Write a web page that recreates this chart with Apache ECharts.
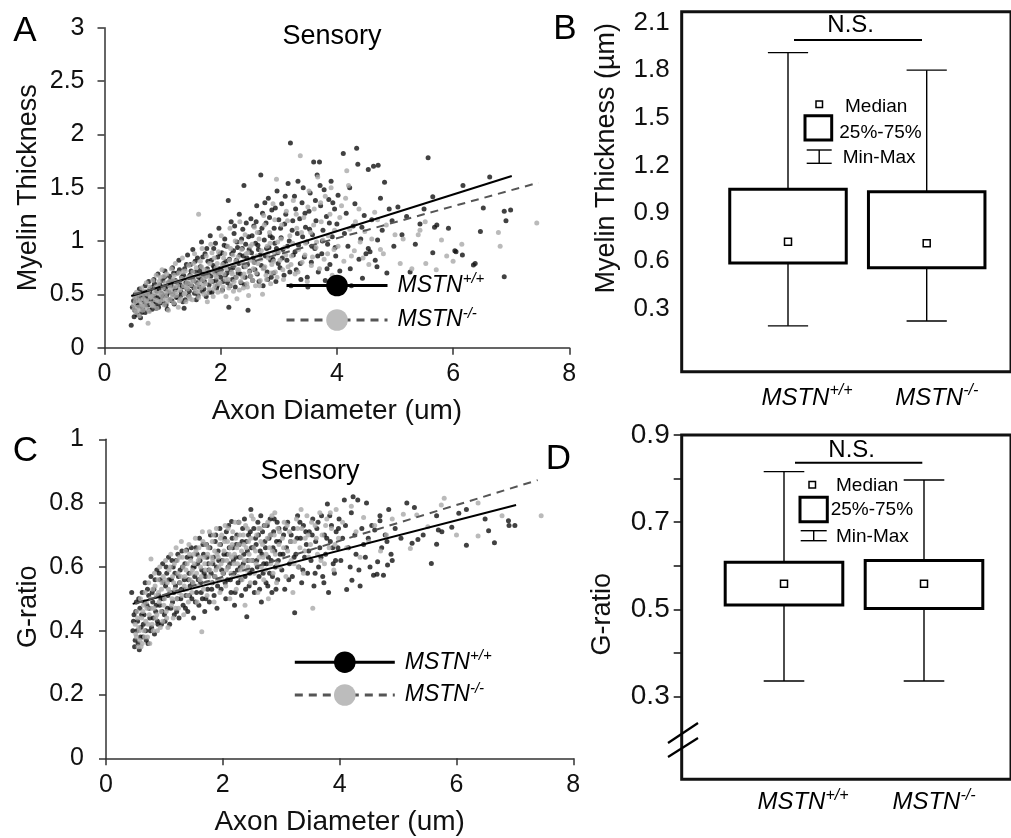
<!DOCTYPE html>
<html><head><meta charset="utf-8">
<script src="https://cdn.jsdelivr.net/npm/echarts@6/dist/echarts.min.js"></script>
<style>html,body{margin:0;padding:0;background:#fff}#c{width:1011px;height:838px}</style>
</head><body><div id="c"></div>
<script>
const FONT = 'Liberation Sans, Arial, Helvetica, sans-serif';

// ---------- data ----------
const categories = ['MSTN+/+', 'MSTN-/-'];
// [min, Q1, median, Q3, max]
const myelinBox = [[0.19, 0.585, 0.72, 1.05, 1.91], [0.22, 0.555, 0.71, 1.035, 1.80]];
const gratioBox = [[0.336, 0.51, 0.559, 0.608, 0.816], [0.336, 0.502, 0.559, 0.612, 0.797]];

const fitMyelinWT = [[0.46, 0.485], [7.01, 1.61]];
const fitMyelinKO = [[0.5, 0.50], [7.47, 1.547]];
const fitGratioWT = [[0.457, 0.484], [7.02, 0.794]];
const fitGratioKO = [[0.5, 0.485], [7.39, 0.872]];

const myelinWT = [
[0.46,0.21],[0.48,0.38],[0.5,0.44],[0.52,0.35],[0.53,0.50],[0.55,0.42],[0.56,0.31],[0.58,0.47],[0.6,0.55],[0.6,0.39],[0.62,0.28],[0.63,0.45],[0.65,0.52],[0.66,0.36],[0.68,0.43],[0.7,0.58],[0.7,0.33],[0.72,0.49],
[0.75,0.40],[0.76,0.62],[0.78,0.52],[0.8,0.45],[0.82,0.36],[0.83,0.57],[0.85,0.64],[0.87,0.48],[0.88,0.41],[0.9,0.53],[0.92,0.69],[0.93,0.38],[0.95,0.59],[0.97,0.46],[0.98,0.51],[1.0,0.63],
[1.02,0.42],[1.04,0.72],[1.05,0.55],[1.07,0.49],[1.08,0.36],[1.1,0.61],[1.12,0.67],[1.13,0.45],[1.15,0.58],[1.17,0.75],[1.18,0.50],[1.2,0.41],[1.22,0.63],[1.23,0.56],[1.25,0.70],[1.27,0.47],[1.28,0.82],[1.3,0.59],[1.32,0.52],[1.33,0.66],[1.35,0.43],[1.37,0.37],[1.38,0.74],[1.4,0.61],[1.42,0.55],[1.43,0.87],[1.45,0.49],[1.47,0.68],[1.48,0.78],[1.5,0.58],
[1.52,0.92],[1.53,0.63],[1.55,0.51],[1.57,0.71],[1.58,0.45],[1.6,0.84],[1.62,0.66],[1.63,0.57],[1.65,0.76],[1.67,0.99],[1.68,0.53],[1.7,0.69],[1.72,0.62],[1.73,0.88],[1.75,0.48],[1.77,0.74],[1.78,0.81],[1.8,0.59],[1.82,1.05],[1.83,0.67],[1.85,0.52],[1.87,0.77],[1.88,0.93],[1.9,0.71],[1.92,0.63],[1.93,0.56],[1.95,0.85],[1.97,1.12],[1.98,0.74],[2.0,0.66],
[2.02,0.89],[2.03,0.54],[2.05,0.79],[2.07,1.02],[2.08,0.68],[2.1,0.95],[2.12,0.61],[2.13,1.38],[2.14,0.38],[2.15,0.83],[2.17,0.73],[2.18,1.18],[2.2,0.64],[2.22,0.91],[2.23,1.07],[2.25,0.57],[2.27,0.82],[2.28,0.99],[2.3,0.70],[2.32,1.25],[2.33,0.87],[2.35,0.61],[2.37,0.93],[2.38,1.11],[2.4,1.52],[2.4,0.76],[2.42,0.66],[2.43,0.97],[2.45,0.84],[2.47,0.35],[2.48,1.04],[2.5,0.72],
[2.52,1.21],[2.53,0.89],[2.55,0.63],[2.57,1.14],[2.58,0.80],[2.6,0.98],[2.62,1.33],[2.63,0.69],[2.65,0.92],[2.67,1.08],[2.69,1.62],[2.7,0.77],[2.72,1.26],[2.73,0.58],[2.75,1.01],[2.77,0.86],[2.78,1.17],[2.8,0.71],[2.82,1.40],[2.83,0.94],[2.85,1.05],[2.87,0.66],[2.88,1.29],[2.9,0.83],[2.92,1.12],[2.93,0.98],[2.95,0.62],[2.97,1.47],[2.98,0.89],[3.0,1.20],
[3.02,0.75],[3.04,1.03],[3.05,1.35],[3.07,0.92],[3.09,0.68],[3.1,1.16],[3.12,1.25],[3.14,0.82],[3.16,1.54],[3.18,1.00],[3.2,1.92],[3.21,0.58],[3.23,1.10],[3.25,0.87],[3.27,1.42],[3.29,1.30],[3.3,0.73],[3.32,1.07],[3.34,0.96],[3.36,1.21],[3.38,0.64],[3.4,1.36],[3.42,1.50],[3.44,0.85],[3.46,1.13],[3.48,0.99],[3.5,0.57],
[3.52,1.28],[3.54,1.45],[3.56,0.80],[3.58,1.06],[3.6,1.74],[3.62,0.93],[3.64,1.19],[3.66,1.62],[3.68,0.71],[3.7,1.74],[3.72,1.33],[3.74,0.88],[3.76,1.10],[3.78,1.48],[3.8,0.63],[3.82,1.23],[3.84,0.97],[3.86,1.39],[3.88,0.78],[3.9,1.56],[3.92,1.04],[3.94,0.54],[3.96,1.30],[3.98,0.86],[4.0,1.16],
[4.02,1.43],[4.05,0.72],[4.08,0.52],[4.11,1.82],[4.13,1.07],[4.16,1.26],[4.19,0.95],[4.22,1.50],[4.23,0.74],[4.25,0.58],[4.28,1.14],[4.31,1.35],[4.34,1.87],[4.36,1.72],[4.38,0.83],[4.41,1.02],[4.43,1.13],[4.44,0.65],[4.47,1.24],[4.5,0.88],
[4.54,1.67],[4.54,0.93],[4.57,0.90],[4.6,1.20],[4.63,1.70],[4.66,0.82],[4.69,0.76],[4.7,1.01],[4.71,1.71],[4.75,1.40],[4.78,1.10],[4.82,1.55],[4.86,0.70],[4.9,1.30],[4.95,1.19],[4.98,0.95],
[5.05,1.32],[5.12,1.06],[5.2,1.23],[5.26,0.71],[5.35,0.97],[5.43,1.16],[5.5,1.30],[5.57,1.78],[5.65,1.415],[5.65,0.89],[5.68,1.13],[5.72,1.15],[5.92,1.12],[6.03,0.91],[6.05,0.90],[6.16,0.87],[6.17,1.52],[6.35,0.775],[6.38,0.79],[6.47,1.09],[6.52,1.31],[6.63,1.60],[6.88,1.28],[6.88,0.665],[6.91,1.19],[6.99,1.29],
[0.51,0.29],[0.54,0.46],[0.57,0.40],[0.61,0.49],[0.64,0.33],[0.67,0.48],[0.69,0.40],[0.71,0.52],[0.74,0.45],[0.77,0.35],[0.79,0.55],[0.81,0.49],[0.84,0.43],[0.86,0.60],[0.89,0.37],[0.91,0.47],[0.94,0.55],[0.96,0.42],[0.99,0.57],[1.01,0.49],[1.03,0.66],[1.06,0.40],[1.09,0.58],[1.11,0.52],[1.14,0.63],[1.16,0.44],[1.19,0.70],[1.21,0.54],[1.24,0.47],[1.26,0.61],[1.29,0.73],[1.31,0.49],[1.34,0.57],[1.36,0.68],[1.39,0.45],[1.41,0.78],[1.44,0.60],[1.46,0.53],[1.49,0.72],[1.51,0.66],[1.54,0.56],[1.56,0.81],[1.59,0.61],[1.61,0.49],[1.64,0.72],[1.66,0.64],[1.69,0.85],[1.71,0.55],[1.74,0.67],[1.76,0.93],[1.79,0.70],[1.81,0.52],[1.84,0.82],[1.86,0.62],[1.89,0.75],[1.91,0.98],[1.94,0.58],[1.96,0.69],[1.99,0.88],[2.01,0.73],[2.04,0.62],[2.06,0.96],[2.09,0.81],[2.11,0.70],[2.16,0.58],[2.19,0.88],[2.21,0.75],[2.24,1.14],[2.26,0.66],[2.29,0.94],[2.31,0.79],[2.34,0.69],[2.36,1.02],[2.39,0.86],[2.41,0.59],[2.44,1.17],[2.46,0.78],[2.49,0.92],[2.51,0.67],[2.54,1.05],[2.56,0.84],[2.59,0.73],[2.61,1.18],[2.64,0.96],[2.66,0.62],[2.68,0.87],[2.71,1.12],[2.74,0.75],[2.76,1.36],[2.79,0.93],[2.81,0.64],[2.84,1.22],[2.86,0.82],[2.89,1.03],[2.91,0.70],[2.94,1.31],[2.96,0.93],[2.99,0.79],[3.03,1.12],[3.06,0.84],[3.11,1.42],[3.15,0.95],[3.19,0.71],[3.24,1.19],[3.28,0.90],[3.33,1.56],[3.37,0.79],[3.41,1.04],[3.45,1.26],[3.49,0.66],[3.53,1.11],[3.57,0.95],[3.63,1.38],[3.67,0.86],[3.71,1.52],[3.75,1.00],[3.83,0.74],[3.87,1.17],[3.93,1.36],[3.97,0.94]
];

const myelinKO = [
[0.5,0.40],[0.52,0.47],[0.54,0.33],[0.55,0.52],[0.57,0.38],[0.58,0.44],[0.6,0.30],[0.61,0.50],[0.63,0.41],[0.64,0.56],[0.66,0.35],[0.67,0.46],[0.69,0.53],[0.7,0.39],[0.72,0.61],[0.73,0.44],[0.75,0.23],[0.75,0.50],[0.77,0.34],[0.78,0.57],[0.8,0.42],[0.81,0.48],[0.83,0.63],[0.84,0.39],[0.86,0.54],[0.87,0.45],[0.89,0.68],[0.9,0.37],[0.92,0.51],[0.93,0.58],[0.95,0.43],[0.96,0.66],[0.98,0.49],[0.99,0.73],
[1.01,0.56],[1.03,0.40],[1.04,0.61],[1.06,0.47],[1.07,0.69],[1.09,0.53],[1.1,0.35],[1.12,0.58],[1.13,0.45],[1.15,0.74],[1.16,0.51],[1.18,0.64],[1.19,0.42],[1.21,0.57],[1.22,0.79],[1.24,0.49],[1.25,0.62],[1.27,0.38],[1.28,0.70],[1.3,0.54],[1.31,0.46],[1.33,0.65],[1.34,0.84],[1.36,0.58],[1.37,0.50],[1.39,0.72],[1.4,0.43],[1.42,0.61],[1.43,0.55],[1.45,0.77],[1.46,0.48],[1.48,0.67],[1.49,0.59],
[1.51,0.45],[1.52,0.71],[1.54,0.63],[1.55,0.88],[1.57,0.53],[1.58,0.75],[1.6,0.59],[1.62,1.25],[1.62,0.47],[1.63,0.68],[1.65,0.81],[1.66,0.56],[1.68,0.93],[1.69,0.64],[1.71,0.50],[1.72,0.73],[1.74,0.60],[1.75,0.86],[1.77,0.43],[1.78,0.67],[1.8,0.55],[1.81,0.79],[1.83,0.97],[1.84,0.62],[1.86,0.71],[1.87,0.48],[1.89,0.84],[1.9,0.58],[1.92,0.75],[1.93,0.66],[1.95,0.52],[1.96,0.90],[1.98,0.70],[1.99,0.61],
[2.01,1.05],[2.03,0.78],[2.04,0.57],[2.06,0.69],[2.07,0.88],[2.09,0.48],[2.1,0.74],[2.12,0.95],[2.13,0.64],[2.15,0.82],[2.16,1.12],[2.18,0.59],[2.19,0.71],[2.21,0.87],[2.22,0.53],[2.24,0.77],[2.25,1.00],[2.27,0.66],[2.28,0.46],[2.3,0.85],[2.31,0.73],[2.33,1.18],[2.34,0.62],[2.36,0.92],[2.37,0.80],[2.39,0.56],[2.4,0.69],[2.42,1.06],[2.43,0.76],[2.45,0.60],[2.47,0.89],[2.48,0.49],[2.5,0.82],
[2.52,0.67],[2.54,0.97],[2.56,0.74],[2.58,1.13],[2.6,0.58],[2.62,0.86],[2.64,0.79],[2.66,1.02],[2.68,0.63],[2.7,0.91],[2.72,0.50],[2.74,1.24],[2.76,0.76],[2.78,0.68],[2.8,0.95],[2.82,0.84],[2.84,1.08],[2.86,0.60],[2.88,0.78],[2.9,1.35],[2.92,0.89],[2.94,0.71],[2.96,1.58],[2.98,0.99],
[3.02,0.82],[3.05,1.15],[3.08,0.64],[3.1,0.94],[3.13,1.28],[3.16,0.76],[3.19,1.05],[3.22,0.86],[3.25,1.38],[3.28,0.69],[3.31,1.12],[3.34,0.92],[3.37,1.80],[3.4,0.80],[3.43,1.22],[3.46,0.98],[3.49,0.62],[3.52,1.47],[3.55,1.08],[3.58,0.85],[3.61,1.30],[3.64,0.94],[3.67,1.60],[3.7,0.74],[3.73,1.18],[3.76,1.01],[3.8,1.42],[3.84,0.88],[3.88,1.25],[3.92,0.68],[3.96,1.10],
[4.02,0.95],[4.08,1.33],[4.15,1.40],[4.17,1.66],[4.2,1.52],[4.25,0.86],[4.32,1.18],[4.4,0.99],[4.48,1.09],[4.55,0.78],[4.65,1.27],[4.75,0.92],[4.85,1.15],[5.0,1.06],[5.09,0.79],[5.14,1.02],[5.29,0.74],[5.4,1.06],[5.43,1.10],[5.52,1.18],[5.53,0.79],[5.71,0.73],[5.8,1.01],[5.89,0.86],[6.0,0.81],[6.15,0.97],[6.78,1.08],[6.81,0.95],[7.44,1.17],
[0.51,0.36],[0.53,0.43],[0.56,0.48],[0.59,0.35],[0.62,0.45],[0.65,0.39],[0.68,0.50],[0.71,0.43],[0.74,0.36],[0.76,0.54],[0.79,0.47],[0.82,0.40],[0.85,0.50],[0.88,0.57],[0.91,0.44],[0.94,0.62],[0.97,0.52],[1.0,0.45],[1.02,0.67],[1.05,0.51],[1.08,0.43],[1.11,0.62],[1.14,0.55],[1.17,0.48],[1.2,0.68],[1.23,0.52],[1.26,0.58],[1.29,0.44],[1.32,0.63],[1.35,0.71],[1.38,0.51],[1.41,0.57],[1.44,0.66],[1.47,0.46],[1.5,0.62],[1.53,0.79],[1.56,0.56],[1.59,0.68],[1.61,0.52],[1.64,0.61],[1.67,0.76],[1.7,0.58],[1.73,0.66],[1.76,0.51],[1.79,0.72],[1.82,0.63],[1.85,0.89],[1.88,0.55],[1.91,0.68],[1.94,0.79],[1.97,0.60],[2.0,0.71],[2.02,0.53],[2.05,0.84],[2.08,0.64],[2.11,0.77],[2.14,0.56],[2.17,0.93],[2.2,0.69],[2.23,0.62],[2.26,0.81],[2.29,0.73],[2.32,0.54],[2.35,0.99],[2.38,0.66],[2.41,0.78],[2.44,0.88],[2.46,0.57],[2.49,0.71],[2.51,0.95],[2.55,0.63],[2.57,0.80],[2.61,0.70],[2.63,1.08],[2.67,0.58],[2.69,0.83],[2.73,0.74],[2.75,1.15],[2.79,0.64],[2.81,0.88],[2.85,0.98],[2.87,0.70],[2.91,0.81],[2.93,1.20],[2.97,0.66],[3.0,0.90],[3.04,1.02],[3.07,0.73],[3.12,0.87],[3.15,1.19],[3.21,0.78],[3.24,0.98],[3.3,1.25],[3.33,0.71],[3.39,1.08],[3.45,0.87],[3.5,1.32],[3.56,0.77],[3.6,1.15],[3.65,0.99],[3.72,1.36],[3.78,0.83],[3.85,1.05],[3.9,1.50],[3.95,0.92],[4.05,1.22],[4.12,0.81],[4.22,1.11],[4.3,0.91],[4.38,1.30],[4.45,0.84],[4.6,1.02],[4.7,1.20],[4.8,0.88]
];

const gratioWT = [
[0.44,0.52],[0.46,0.40],[0.48,0.45],[0.5,0.37],[0.52,0.49],[0.54,0.43],[0.55,0.36],[0.57,0.34],[0.58,0.47],[0.6,0.41],[0.62,0.52],[0.63,0.38],[0.65,0.45],[0.67,0.55],[0.68,0.40],[0.7,0.48],[0.72,0.36],[0.73,0.51],[0.75,0.44],
[0.77,0.57],[0.78,0.41],[0.8,0.49],[0.82,0.53],[0.83,0.39],[0.85,0.46],[0.87,0.59],[0.88,0.43],[0.9,0.51],[0.92,0.48],[0.93,0.56],[0.95,0.42],[0.97,0.61],[0.98,0.50],[1.0,0.45],
[1.02,0.54],[1.04,0.58],[1.05,0.47],[1.07,0.63],[1.09,0.42],[1.1,0.52],[1.12,0.56],[1.14,0.49],[1.15,0.60],[1.17,0.45],[1.19,0.54],[1.2,0.62],[1.22,0.50],[1.24,0.57],[1.25,0.44],[1.27,0.59],[1.29,0.53],[1.3,0.65],[1.32,0.48],[1.34,0.56],[1.35,0.61],[1.37,0.51],[1.38,0.653],[1.4,0.46],[1.42,0.58],[1.44,0.54],[1.45,0.63],[1.47,0.50],[1.49,0.60],
[1.5,0.44],[1.52,0.57],[1.54,0.66],[1.55,0.52],[1.57,0.61],[1.59,0.48],[1.6,0.69],[1.62,0.55],[1.64,0.59],[1.65,0.50],[1.67,0.64],[1.69,0.46],[1.7,0.57],[1.72,0.67],[1.74,0.53],[1.75,0.61],[1.77,0.49],[1.79,0.70],[1.8,0.58],[1.82,0.55],[1.84,0.63],[1.85,0.51],[1.87,0.68],[1.89,0.60],[1.9,0.47],[1.92,0.65],[1.94,0.56],[1.95,0.72],[1.97,0.53],[1.99,0.62],
[2.01,0.58],[2.03,0.69],[2.05,0.50],[2.07,0.64],[2.08,0.56],[2.1,0.73],[2.12,0.61],[2.14,0.52],[2.15,0.742],[2.17,0.66],[2.19,0.58],[2.2,0.48],[2.22,0.63],[2.24,0.70],[2.26,0.55],[2.28,0.67],[2.3,0.60],[2.32,0.51],[2.34,0.72],[2.36,0.64],[2.38,0.57],[2.4,0.68],[2.41,0.444],[2.43,0.62],[2.45,0.54],[2.47,0.71],[2.48,0.78],[2.5,0.59],
[2.52,0.66],[2.54,0.52],[2.56,0.69],[2.58,0.62],[2.6,0.74],[2.62,0.57],[2.64,0.65],[2.66,0.49],[2.68,0.71],[2.7,0.61],[2.72,0.68],[2.74,0.55],[2.76,0.73],[2.78,0.63],[2.8,0.58],[2.82,0.70],[2.84,0.52],[2.86,0.66],[2.88,0.75],[2.9,0.60],[2.92,0.68],[2.94,0.56],[2.96,0.72],[2.98,0.64],
[3.01,0.59],[3.04,0.70],[3.06,0.53],[3.09,0.66],[3.11,0.74],[3.14,0.61],[3.16,0.68],[3.19,0.57],[3.21,0.72],[3.23,0.456],[3.25,0.64],[3.28,0.76],[3.3,0.60],[3.33,0.69],[3.35,0.55],[3.38,0.73],[3.4,0.63],[3.43,0.67],[3.45,0.58],[3.48,0.71],
[3.51,0.62],[3.54,0.75],[3.56,0.54],[3.59,0.68],[3.61,0.72],[3.64,0.60],[3.66,0.66],[3.69,0.76],[3.71,0.57],[3.74,0.70],[3.76,0.64],[3.79,0.797],[3.81,0.52],[3.84,0.68],[3.86,0.73],[3.89,0.61],[3.91,0.58],[3.94,0.71],[3.97,0.66],[3.99,0.75],
[4.02,0.62],[4.05,0.69],[4.08,0.81],[4.1,0.73],[4.12,0.529],[4.15,0.66],[4.18,0.60],[4.2,0.77],[4.21,0.558],[4.23,0.82],[4.26,0.70],[4.28,0.64],[4.31,0.81],[4.33,0.59],[4.35,0.54],[4.38,0.72],[4.41,0.67],[4.44,0.63],[4.46,0.80],[4.49,0.69],
[4.52,0.60],[4.55,0.73],[4.58,0.574],[4.6,0.716],[4.64,0.577],[4.65,0.616],[4.69,0.76],[4.69,0.745],[4.72,0.66],[4.75,0.574],[4.78,0.70],[4.81,0.68],[4.82,0.606],[4.84,0.78],[4.88,0.64],[4.9,0.62],[4.95,0.72],
[5.05,0.69],[5.15,0.80],[5.24,0.674],[5.28,0.786],[5.34,0.686],[5.43,0.70],[5.57,0.611],[5.66,0.76],[5.66,0.671],[5.69,0.716],[5.75,0.71],[5.92,0.724],[6.04,0.768],[6.17,0.78],[6.17,0.668],[6.49,0.75],[6.55,0.713],[6.65,0.676],[6.89,0.745],[6.9,0.73],[7.0,0.73],
[0.47,0.43],[0.49,0.35],[0.51,0.46],[0.53,0.40],[0.56,0.50],[0.59,0.38],[0.61,0.45],[0.64,0.42],[0.66,0.49],[0.69,0.37],[0.71,0.53],[0.74,0.47],[0.76,0.40],[0.79,0.52],[0.81,0.44],[0.84,0.56],[0.86,0.48],[0.89,0.42],[0.91,0.58],[0.94,0.50],[0.96,0.46],[0.99,0.55],[1.01,0.43],[1.03,0.60],[1.06,0.51],[1.08,0.56],[1.11,0.47],[1.13,0.62],[1.16,0.52],[1.18,0.58],[1.21,0.46],[1.23,0.64],[1.26,0.55],[1.28,0.50],[1.31,0.60],[1.33,0.53],[1.36,0.47],[1.39,0.63],[1.41,0.56],[1.43,0.51],[1.46,0.66],[1.48,0.55],[1.51,0.60],[1.53,0.49],[1.56,0.64],[1.58,0.56],[1.61,0.62],[1.63,0.52],[1.66,0.67],[1.68,0.58],[1.71,0.50],[1.73,0.63],[1.76,0.59],[1.78,0.66],[1.81,0.53],[1.83,0.61],[1.86,0.57],[1.88,0.70],[1.91,0.54],[1.93,0.62],[1.96,0.67],[1.98,0.59],[2.02,0.64],[2.04,0.55],[2.06,0.71],[2.09,0.60],[2.11,0.66],[2.13,0.56],[2.16,0.69],[2.18,0.62],[2.21,0.52],[2.23,0.67],[2.25,0.59],[2.27,0.74],[2.29,0.63],[2.31,0.56],[2.33,0.68],[2.35,0.61],[2.37,0.75],[2.39,0.53],[2.42,0.65],[2.44,0.70],[2.46,0.58],[2.49,0.66],[2.51,0.62],[2.53,0.72],[2.55,0.55],[2.57,0.67],[2.59,0.60],[2.61,0.70],[2.63,0.53],[2.65,0.76],[2.67,0.64],[2.69,0.58],[2.71,0.73],[2.73,0.66],[2.75,0.61],[2.77,0.54],[2.79,0.69],[2.81,0.75],[2.83,0.62],[2.85,0.57],[2.87,0.71],[2.89,0.65],[2.91,0.53],[2.93,0.74],[2.95,0.62],[2.97,0.68],[3.03,0.64],[3.07,0.72],[3.13,0.56],[3.17,0.70],[3.22,0.63],[3.27,0.69],[3.32,0.74],[3.37,0.59],[3.42,0.71],[3.47,0.65],[3.53,0.70],[3.58,0.58],[3.63,0.74],[3.68,0.63],[3.73,0.55],[3.78,0.69],[3.83,0.76],[3.88,0.66],[3.93,0.62],[3.98,0.72]
];

const gratioKO = [
[0.5,0.42],[0.52,0.38],[0.53,0.46],[0.55,0.35],[0.56,0.41],[0.58,0.37],[0.59,0.50],[0.61,0.44],[0.62,0.36],[0.64,0.48],[0.65,0.40],[0.67,0.52],[0.68,0.43],[0.7,0.47],[0.71,0.38],[0.73,0.55],[0.74,0.45],[0.76,0.50],[0.77,0.625],[0.79,0.42],[0.8,0.53],[0.82,0.47],[0.83,0.58],[0.85,0.44],[0.86,0.51],[0.88,0.40],[0.89,0.56],[0.91,0.49],[0.92,0.60],[0.94,0.46],[0.95,0.53],[0.97,0.43],[0.98,0.57],
[1.0,0.50],[1.02,0.62],[1.03,0.46],[1.05,0.55],[1.06,0.41],[1.08,0.59],[1.09,0.52],[1.11,0.64],[1.12,0.48],[1.14,0.57],[1.15,0.44],[1.17,0.61],[1.18,0.53],[1.2,0.66],[1.21,0.50],[1.23,0.58],[1.24,0.47],[1.26,0.63],[1.27,0.55],[1.29,0.68],[1.3,0.51],[1.32,0.60],[1.33,0.45],[1.35,0.57],[1.36,0.65],[1.38,0.53],[1.39,0.61],[1.41,0.49],[1.42,0.67],[1.44,0.56],[1.45,0.62],[1.47,0.52],[1.48,0.59],
[1.5,0.64],[1.52,0.54],[1.53,0.69],[1.55,0.58],[1.56,0.49],[1.58,0.62],[1.59,0.66],[1.61,0.56],[1.62,0.60],[1.64,0.397],[1.65,0.71],[1.67,0.53],[1.68,0.63],[1.7,0.59],[1.71,0.67],[1.73,0.51],[1.74,0.64],[1.76,0.57],[1.77,0.71],[1.79,0.61],[1.8,0.55],[1.82,0.68],[1.83,0.62],[1.85,0.49],[1.86,0.65],[1.88,0.59],[1.89,0.72],[1.91,0.56],[1.92,0.63],[1.94,0.67],[1.95,0.52],[1.97,0.61],[1.98,0.70],
[2.0,0.58],[2.02,0.65],[2.04,0.73],[2.05,0.54],[2.07,0.62],[2.08,0.68],[2.1,0.60],[2.12,0.50],[2.13,0.66],[2.15,0.63],[2.17,0.71],[2.18,0.57],[2.2,0.64],[2.22,0.69],[2.23,0.53],[2.25,0.61],[2.27,0.67],[2.28,0.74],[2.3,0.59],[2.32,0.65],[2.33,0.56],[2.35,0.70],[2.37,0.62],[2.38,0.48],[2.4,0.66],[2.42,0.72],[2.43,0.60],[2.45,0.64],[2.47,0.55],[2.48,0.69],[2.5,0.62],
[2.52,0.75],[2.54,0.58],[2.56,0.65],[2.58,0.70],[2.6,0.52],[2.62,0.63],[2.64,0.72],[2.66,0.60],[2.68,0.67],[2.7,0.56],[2.72,0.73],[2.74,0.64],[2.76,0.69],[2.78,0.50],[2.8,0.66],[2.82,0.61],[2.84,0.76],[2.86,0.58],[2.88,0.70],[2.9,0.64],[2.92,0.55],[2.94,0.72],[2.96,0.67],[2.98,0.60],
[3.02,0.69],[3.05,0.74],[3.08,0.57],[3.11,0.65],[3.14,0.71],[3.17,0.62],[3.2,0.52],[3.23,0.68],[3.26,0.75],[3.29,0.60],[3.32,0.66],[3.35,0.72],[3.38,0.58],[3.41,0.69],[3.44,0.76],[3.47,0.63],[3.5,0.67],[3.54,0.47],[3.58,0.73],[3.62,0.64],[3.66,0.77],[3.7,0.70],[3.74,0.61],[3.78,0.75],[3.82,0.66],[3.86,0.72],[3.9,0.59],[3.94,0.78],[3.98,0.69],
[4.05,0.74],[4.12,0.66],[4.2,0.79],[4.28,0.71],[4.35,0.63],[4.41,0.755],[4.5,0.68],[4.6,0.73],[4.7,0.65],[4.8,0.70],[4.9,0.75],[5.09,0.765],[5.21,0.658],[5.32,0.763],[5.51,0.726],[5.74,0.794],[5.79,0.815],[6.0,0.70],[6.37,0.80],[6.37,0.697],[6.78,0.76],[7.45,0.76],
[0.51,0.39],[0.54,0.44],[0.57,0.40],[0.6,0.35],[0.63,0.46],[0.66,0.38],[0.69,0.49],[0.72,0.42],[0.75,0.36],[0.78,0.47],[0.81,0.40],[0.84,0.54],[0.87,0.45],[0.9,0.52],[0.93,0.41],[0.96,0.55],[0.99,0.48],[1.01,0.56],[1.04,0.44],[1.07,0.53],[1.1,0.60],[1.13,0.50],[1.16,0.55],[1.19,0.47],[1.22,0.62],[1.25,0.52],[1.28,0.57],[1.31,0.63],[1.34,0.54],[1.37,0.59],[1.4,0.51],[1.43,0.64],[1.46,0.58],[1.49,0.55],[1.51,0.61],[1.54,0.65],[1.57,0.54],[1.6,0.63],[1.63,0.57],[1.66,0.68],[1.69,0.61],[1.72,0.55],[1.75,0.66],[1.78,0.59],[1.81,0.63],[1.84,0.70],[1.87,0.57],[1.9,0.64],[1.93,0.60],[1.96,0.69],[1.99,0.56],[2.01,0.62],[2.03,0.68],[2.06,0.59],[2.09,0.72],[2.11,0.64],[2.14,0.58],[2.16,0.67],[2.19,0.61],[2.21,0.74],[2.24,0.66],[2.26,0.57],[2.29,0.70],[2.31,0.63],[2.34,0.60],[2.36,0.67],[2.39,0.73],[2.41,0.59],[2.44,0.68],[2.46,0.62],[2.49,0.76],[2.53,0.66],[2.57,0.61],[2.61,0.72],[2.65,0.68],[2.69,0.63],[2.73,0.59],[2.77,0.74],[2.81,0.70],[2.85,0.65],[2.89,0.77],[2.93,0.61],[2.97,0.71],[3.04,0.66],[3.1,0.73],[3.16,0.68],[3.22,0.61],[3.28,0.72],[3.34,0.78],[3.4,0.65],[3.46,0.70],[3.52,0.74],[3.6,0.69],[3.68,0.62],[3.76,0.73],[3.84,0.77],[3.92,0.67]
];

// ---------- helpers ----------
function genoRich(name, idx) {
  const sup = name.slice(4);
  const t = (idx === 1) ? 'i1' : (idx === 0 ? 'i0' : 'i');
  return '{' + t + '|MSTN}{s|' + sup + '}';
}
const richLegend = {
  i: {fontSize: 23, fontStyle: 'italic', fontFamily: FONT, color: '#000', lineHeight: 28, padding: [0, 0, 0, 5]},
  s: {fontSize: 15, fontStyle: 'italic', fontFamily: FONT, color: '#000', verticalAlign: 'top', lineHeight: 16}
};
const richAxis = {
  i0: {fontSize: 24, fontStyle: 'italic', fontFamily: FONT, color: '#000', lineHeight: 30, padding: [0, 0, 0, 38]},
  i1: {fontSize: 24, fontStyle: 'italic', fontFamily: FONT, color: '#000', lineHeight: 30, padding: [0, 0, 0, 20]},
  s: {fontSize: 16, fontStyle: 'italic', fontFamily: FONT, color: '#000', verticalAlign: 'top', lineHeight: 18}
};

function boxRender(params, api) {
  const cat = api.value(0);
  const band = api.size([1, 0])[0];
  const bw = band * 0.84, cw = band * 0.29;
  const pMin = api.coord([cat, api.value(1)]);
  const pQ1 = api.coord([cat, api.value(2)]);
  const pMed = api.coord([cat, api.value(3)]);
  const pQ3 = api.coord([cat, api.value(4)]);
  const pMax = api.coord([cat, api.value(5)]);
  const x = pMin[0];
  const thin = {stroke: '#000', lineWidth: 1.4, fill: null};
  return {type: 'group', children: [
    {type: 'line', shape: {x1: x, y1: pMax[1], x2: x, y2: pQ3[1]}, style: thin},
    {type: 'line', shape: {x1: x, y1: pQ1[1], x2: x, y2: pMin[1]}, style: thin},
    {type: 'line', shape: {x1: x - cw / 2, y1: pMax[1], x2: x + cw / 2, y2: pMax[1]}, style: thin},
    {type: 'line', shape: {x1: x - cw / 2, y1: pMin[1], x2: x + cw / 2, y2: pMin[1]}, style: thin},
    {type: 'rect', shape: {x: x - bw / 2, y: pQ3[1], width: bw, height: pQ1[1] - pQ3[1]}, style: {fill: '#fff', stroke: '#000', lineWidth: 3}},
    {type: 'rect', shape: {x: pMed[0] - 3.5, y: pMed[1] - 3.5, width: 7, height: 7}, style: {fill: '#fff', stroke: '#000', lineWidth: 1.5}}
  ]};
}

const axColor = '#333';
function scatterX(gi) {
  return {gridIndex: gi, type: 'value', min: 0, max: 8, interval: 2,
    axisLine: {lineStyle: {color: axColor, width: 1.5}},
    axisTick: {show: true, length: 7, lineStyle: {color: axColor, width: 1.5}},
    axisLabel: {fontSize: 25, fontFamily: FONT, color: '#111', margin: 14},
    splitLine: {show: false},
    name: 'Axon Diameter (um)', nameLocation: 'middle', nameGap: 50,
    nameTextStyle: {fontSize: 28, fontFamily: FONT, color: '#111'}};
}

const option = {
  animation: false,
  backgroundColor: '#fff',
  grid: [
    {left: 104.5, top: 27.7, width: 464.8, height: 320},
    {left: 106, top: 439.3, width: 467.3, height: 319},
    {left: 681.7, top: 11.7, right: -30, height: 360, show: true, borderWidth: 3, borderColor: '#111', backgroundColor: 'rgba(0,0,0,0)'},
    {left: 718.65, top: 22.5, width: 277.4, height: 333.5},
    {left: 681.7, top: 435, right: -30, height: 344.3, show: true, borderWidth: 3, borderColor: '#111', backgroundColor: 'rgba(0,0,0,0)'},
    {left: 714, top: 435, width: 280, height: 261.7}
  ],
  xAxis: [
    scatterX(0),
    scatterX(1),
    {gridIndex: 2, type: 'value', show: false},
    {gridIndex: 3, type: 'category', data: categories,
      axisLine: {show: false}, axisTick: {show: false},
      axisLabel: {margin: 27, formatter: genoRich, rich: richAxis}},
    {gridIndex: 4, type: 'value', show: false},
    {gridIndex: 5, type: 'category', data: categories,
      axisLine: {show: false}, axisTick: {show: false},
      axisLabel: {margin: 91, formatter: genoRich, rich: richAxis}}
  ],
  yAxis: [
    {gridIndex: 0, type: 'value', min: 0, max: 3, interval: 0.5,
      axisLine: {show: true, lineStyle: {color: axColor, width: 1.5}},
      axisTick: {show: true, length: 7, lineStyle: {color: axColor, width: 1.5}},
      axisLabel: {fontSize: 25, fontFamily: FONT, color: '#111', margin: 20},
      splitLine: {show: false},
      name: 'Myelin Thickness', nameLocation: 'middle', nameGap: 62,
      nameTextStyle: {fontSize: 27, fontFamily: FONT, color: '#111'}},
    {gridIndex: 1, type: 'value', min: 0, max: 1, interval: 0.2,
      axisLine: {show: true, lineStyle: {color: axColor, width: 1.5}},
      axisTick: {show: true, length: 7, lineStyle: {color: axColor, width: 1.5}},
      axisLabel: {fontSize: 25, fontFamily: FONT, color: '#111', margin: 22},
      splitLine: {show: false},
      name: 'G-ratio', nameLocation: 'middle', nameGap: 64,
      nameTextStyle: {fontSize: 27, fontFamily: FONT, color: '#111', padding: [0, 16, 0, 0]}},
    {gridIndex: 2, type: 'value', min: 0, max: 1,
      axisLine: {show: false}, axisTick: {show: false}, axisLabel: {show: false}, splitLine: {show: false},
      name: 'Myelin Thickness (µm)', nameLocation: 'middle', nameGap: 62,
      nameTextStyle: {fontSize: 27, fontFamily: FONT, color: '#111', padding: [0, 0, 0, 67]}},
    {gridIndex: 3, type: 'value', min: 0, max: 2.1, interval: 0.3, offset: 36.95,
      axisLine: {show: false}, axisTick: {show: false}, splitLine: {show: false},
      axisLabel: {fontSize: 26, fontFamily: FONT, color: '#111', margin: 12, showMinLabel: false,
        formatter: v => v === 0 ? '' : v.toFixed(1)}},
    {gridIndex: 4, type: 'value', min: 0, max: 1,
      axisLine: {show: false}, axisTick: {show: false}, axisLabel: {show: false}, splitLine: {show: false},
      name: 'G-ratio', nameLocation: 'middle', nameGap: 66,
      nameTextStyle: {fontSize: 27, fontFamily: FONT, color: '#111', padding: [0, 14, 0, 0]}},
    {gridIndex: 5, type: 'value', min: 0.3, max: 0.9, interval: 0.1, offset: 32.3,
      axisLine: {show: false},
      axisTick: {show: true, length: 8, lineStyle: {color: '#111', width: 1.5}},
      splitLine: {show: false},
      axisLabel: {fontSize: 28, fontFamily: FONT, color: '#111', margin: 12,
        formatter: v => (Math.round(v * 10) % 2 === 1) ? v.toFixed(1) : ''}}
  ],
  legend: [
    {left: 285, top: 271.5, padding: 0, orient: 'vertical', itemWidth: 101, itemHeight: 27, itemGap: 9,
      selectedMode: false, data: ['MSTN+/+', 'MSTN-/-'], formatter: n => genoRich(n),
      lineStyle: {width: 3}, textStyle: {rich: richLegend}},
    {left: 293.3, top: 648.2, padding: 0, orient: 'vertical', itemWidth: 100, itemHeight: 27, itemGap: 7.3,
      selectedMode: false, data: ['MSTN+/+', 'MSTN-/-'], formatter: n => genoRich(n),
      lineStyle: {width: 3}, textStyle: {rich: richLegend}}
  ],
  series: [
    {name: 'WT points A', type: 'scatter', xAxisIndex: 0, yAxisIndex: 0, data: myelinWT, symbolSize: 5, itemStyle: {color: '#111'}, silent: true, z: 2},
    {name: 'KO points A', type: 'scatter', xAxisIndex: 0, yAxisIndex: 0, data: myelinKO, symbolSize: 5, itemStyle: {color: '#a9a9a9'}, silent: true, z: 2},
    {name: 'MSTN+/+', type: 'line', xAxisIndex: 0, yAxisIndex: 0, data: fitMyelinWT, symbol: 'circle', showSymbol: false,
      lineStyle: {color: '#000', width: 2}, itemStyle: {color: '#000'}, silent: true, z: 3},
    {name: 'MSTN-/-', type: 'line', xAxisIndex: 0, yAxisIndex: 0, data: fitMyelinKO, symbol: 'circle', showSymbol: false,
      lineStyle: {color: '#555', width: 2, type: [8, 6]}, itemStyle: {color: '#bcbcbc'}, silent: true, z: 3},
    {name: 'WT points C', type: 'scatter', xAxisIndex: 1, yAxisIndex: 1, data: gratioWT, symbolSize: 5, itemStyle: {color: '#111'}, silent: true, z: 2},
    {name: 'KO points C', type: 'scatter', xAxisIndex: 1, yAxisIndex: 1, data: gratioKO, symbolSize: 5, itemStyle: {color: '#a9a9a9'}, silent: true, z: 2},
    {name: 'MSTN+/+ C', type: 'line', xAxisIndex: 1, yAxisIndex: 1, data: fitGratioWT, showSymbol: false,
      lineStyle: {color: '#000', width: 2}, itemStyle: {color: '#000'}, silent: true, z: 3},
    {name: 'MSTN-/- C', type: 'line', xAxisIndex: 1, yAxisIndex: 1, data: fitGratioKO, showSymbol: false,
      lineStyle: {color: '#555', width: 2, type: [8, 6]}, itemStyle: {color: '#bcbcbc'}, silent: true, z: 3},
    {name: 'Myelin box', type: 'custom', xAxisIndex: 3, yAxisIndex: 3, renderItem: boxRender,
      data: myelinBox.map((b, i) => [i].concat(b)), encode: {x: 0, y: [1, 2, 3, 4, 5]}, silent: true, z: 3},
    {name: 'G-ratio box', type: 'custom', xAxisIndex: 5, yAxisIndex: 5, renderItem: boxRender,
      data: gratioBox.map((b, i) => [i].concat(b)), encode: {x: 0, y: [1, 2, 3, 4, 5]}, silent: true, z: 3}
  ],
  graphic: [
    {type: 'text', x: 25, y: 31, style: {text: 'A', font: '35px ' + FONT, fill: '#000', align: 'center', verticalAlign: 'middle'}},
    {type: 'text', x: 565, y: 29, style: {text: 'B', font: '35px ' + FONT, fill: '#000', align: 'center', verticalAlign: 'middle'}},
    {type: 'text', x: 25.5, y: 451, style: {text: 'C', font: '35px ' + FONT, fill: '#000', align: 'center', verticalAlign: 'middle'}},
    {type: 'text', x: 558.5, y: 459, style: {text: 'D', font: '35px ' + FONT, fill: '#000', align: 'center', verticalAlign: 'middle'}},
    {type: 'text', x: 332, y: 37, style: {text: 'Sensory', font: '27px ' + FONT, fill: '#000', align: 'center', verticalAlign: 'middle'}},
    {type: 'text', x: 310, y: 472, style: {text: 'Sensory', font: '27px ' + FONT, fill: '#000', align: 'center', verticalAlign: 'middle'}},
    {type: 'text', x: 850.7, y: 25, style: {text: 'N.S.', font: '24px ' + FONT, fill: '#000', align: 'center', verticalAlign: 'middle'}},
    {type: 'line', shape: {x1: 794, y1: 40, x2: 922, y2: 40}, style: {stroke: '#000', lineWidth: 2}},
    {type: 'text', x: 851.7, y: 450, style: {text: 'N.S.', font: '24px ' + FONT, fill: '#000', align: 'center', verticalAlign: 'middle'}},
    {type: 'line', shape: {x1: 795, y1: 462.7, x2: 922.3, y2: 462.7}, style: {stroke: '#000', lineWidth: 2}},
    {type: 'rect', shape: {x: 816, y: 101, width: 6.5, height: 6.5}, style: {fill: '#fff', stroke: '#000', lineWidth: 1.5}},
    {type: 'text', x: 845, y: 107, style: {text: 'Median', font: '19px ' + FONT, fill: '#000', align: 'left', verticalAlign: 'middle'}},
    {type: 'rect', shape: {x: 805, y: 115.7, width: 26.7, height: 24.3}, style: {fill: '#fff', stroke: '#000', lineWidth: 3}},
    {type: 'text', x: 839.3, y: 132.7, style: {text: '25%-75%', font: '19px ' + FONT, fill: '#000', align: 'left', verticalAlign: 'middle'}},
    {type: 'line', shape: {x1: 806.7, y1: 150, x2: 831.7, y2: 150}, style: {stroke: '#000', lineWidth: 1.4}},
    {type: 'line', shape: {x1: 806.7, y1: 163.3, x2: 831.7, y2: 163.3}, style: {stroke: '#000', lineWidth: 1.4}},
    {type: 'line', shape: {x1: 819.2, y1: 150, x2: 819.2, y2: 163.3}, style: {stroke: '#000', lineWidth: 1.4}},
    {type: 'text', x: 842.7, y: 157.3, style: {text: 'Min-Max', font: '19px ' + FONT, fill: '#000', align: 'left', verticalAlign: 'middle'}},
    {type: 'rect', shape: {x: 809, y: 481.5, width: 6.5, height: 6.5}, style: {fill: '#fff', stroke: '#000', lineWidth: 1.5}},
    {type: 'text', x: 836, y: 486, style: {text: 'Median', font: '19px ' + FONT, fill: '#000', align: 'left', verticalAlign: 'middle'}},
    {type: 'rect', shape: {x: 800, y: 497.3, width: 27.3, height: 24.4}, style: {fill: '#fff', stroke: '#000', lineWidth: 3}},
    {type: 'text', x: 830.7, y: 509.3, style: {text: '25%-75%', font: '19px ' + FONT, fill: '#000', align: 'left', verticalAlign: 'middle'}},
    {type: 'line', shape: {x1: 800.7, y1: 530.7, x2: 826.7, y2: 530.7}, style: {stroke: '#000', lineWidth: 1.4}},
    {type: 'line', shape: {x1: 800.7, y1: 540.7, x2: 826.7, y2: 540.7}, style: {stroke: '#000', lineWidth: 1.4}},
    {type: 'line', shape: {x1: 813.7, y1: 530.7, x2: 813.7, y2: 540.7}, style: {stroke: '#000', lineWidth: 1.4}},
    {type: 'text', x: 836, y: 536.7, style: {text: 'Min-Max', font: '19px ' + FONT, fill: '#000', align: 'left', verticalAlign: 'middle'}},
    {type: 'line', shape: {x1: 668, y1: 743, x2: 698, y2: 723}, style: {stroke: '#000', lineWidth: 2.2}},
    {type: 'line', shape: {x1: 668, y1: 757, x2: 698, y2: 738}, style: {stroke: '#000', lineWidth: 2.2}}
  ]
};

const chart = echarts.init(document.getElementById('c'), null, {renderer: 'canvas'});
chart.setOption(option);
</script>
</body></html>
